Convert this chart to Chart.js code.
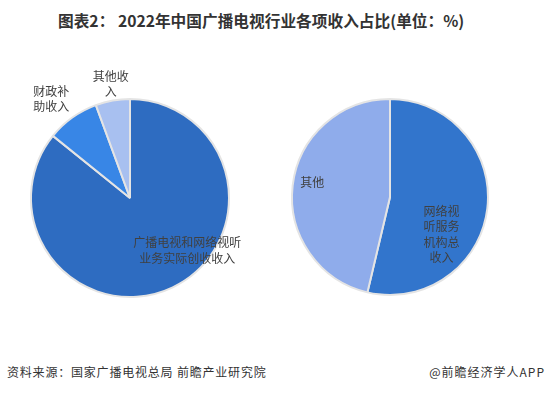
<!DOCTYPE html>
<html>
<head>
<meta charset="utf-8">
<script src="https://cdn.jsdelivr.net/npm/chart.js@4"></script>
<style>
  body { margin: 0; background: #fff; width: 546px; height: 393px; position: relative; overflow: hidden;
         font-family: "Noto Sans CJK SC", "Noto Sans", sans-serif; }
  #title { position: absolute; left: 58px; top: 9px; font-size: 15.7px; font-weight: bold; color: #333; white-space: nowrap; }
  .src { position: absolute; top: 363px; font-size: 12px; color: #333; letter-spacing: 0.8px; white-space: nowrap; }
  #left { position: absolute; left: 0; top: 60px; }
  #right { position: absolute; left: 273px; top: 60px; }
</style>
</head>
<body>
<div id="title">图表2： 2022年中国广播电视行业各项收入占比(单位：%)</div>
<canvas id="left" width="270" height="250"></canvas>
<canvas id="right" width="273" height="250"></canvas>
<div class="src" style="left:7px">资料来源：国家广播电视总局 前瞻产业研究院</div>
<div class="src" style="right:1px;letter-spacing:1px">@前瞻经济学人APP</div>
<script>
// left pie: revenue structure
const leftLabels = [["广播电视和网络视听", "业务实际创收收入"], ["财政补", "助收入"], ["其他收", "入"]];
const leftValues = [85.8, 8.6, 5.6];
// right pie
const rightLabels = [["网络视", "听服务", "机构总", "收入"], ["其他"]];
const rightValues = [53.7, 46.3];

const leftColors = ['#2e6cc1', '#3886e6', '#a8c0f0'];
const rightColors = ['#3275cc', '#8faceb'];

// label placement: radial factor, pixel nudge
const leftPlace = [[0.73, 26, -13], [1.28, -5, 4], [1.17, 1, 0]];
const rightPlace = [[0.57, -4, 31], [0.8, 0, -5]];

function labelPlugin(labels, place) {
  return {
    id: 'sliceLabels',
    afterDatasetsDraw(chart) {
      const ctx = chart.ctx;
      const arcs = chart.getDatasetMeta(0).data;
      ctx.save();
      ctx.font = '12px "Noto Sans CJK SC", sans-serif';
      ctx.fillStyle = '#404040';
      ctx.textAlign = 'center';
      ctx.textBaseline = 'middle';
      arcs.forEach((arc, i) => {
        const p = arc.getProps(['x', 'y', 'startAngle', 'endAngle', 'outerRadius'], true);
        const mid = (p.startAngle + p.endAngle) / 2;
        const [k, dx, dy] = place[i];
        const cx = p.x + Math.cos(mid) * k * p.outerRadius + dx;
        const cy = p.y + Math.sin(mid) * k * p.outerRadius + dy;
        const lines = labels[i];
        const lh = 15.5;
        lines.forEach((t, j) => {
          ctx.fillText(t, cx, cy + (j - (lines.length - 1) / 2) * lh);
        });
      });
      ctx.restore();
    }
  };
}

function makePie(id, labels, values, colors, place, padding) {
  new Chart(document.getElementById(id), {
    type: 'pie',
    data: {
      labels: labels.map(l => l.join('')),
      datasets: [{
        data: values,
        backgroundColor: colors,
        borderColor: '#e4e4e4',
        borderWidth: 2
      }]
    },
    options: {
      responsive: false,
      animation: false,
      layout: { padding: padding },
      plugins: {
        legend: { display: false },
        tooltip: { enabled: false }
      }
    },
    plugins: [labelPlugin(labels, place)]
  });
}

makePie('left', leftLabels, leftValues, leftColors, leftPlace, { left: 30, right: 40, top: 38, bottom: 12 });
makePie('right', rightLabels, rightValues, rightColors, rightPlace, { left: 18, right: 57, top: 38, bottom: 14 });
</script>
</body>
</html>
